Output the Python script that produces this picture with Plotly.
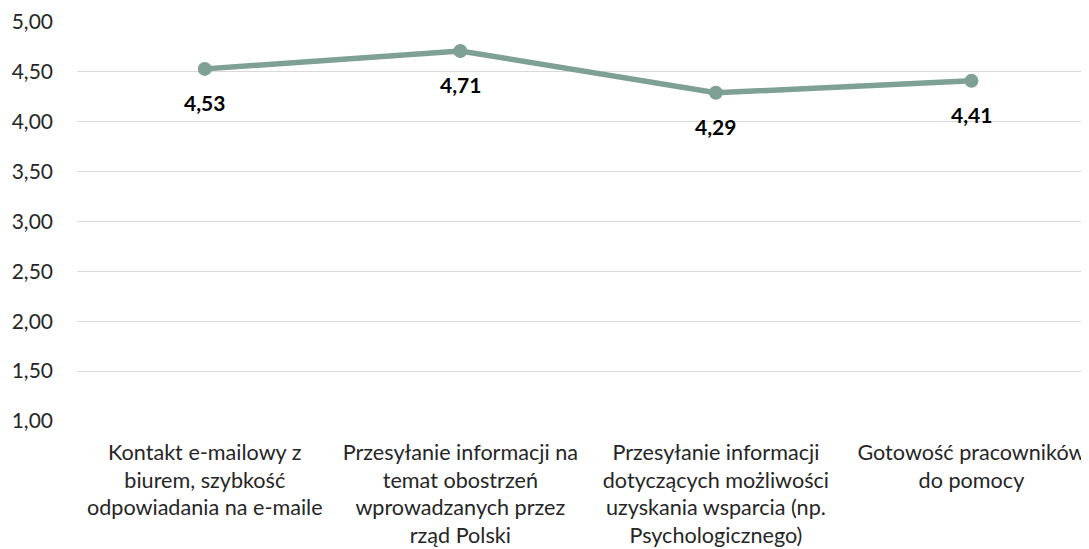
import plotly.graph_objects as go

categories = [
    "Kontakt e-mailowy z<br>biurem, szybkość<br>odpowiadania na e-maile",
    "Przesyłanie informacji na<br>temat obostrzeń<br>wprowadzanych przez<br>rząd Polski",
    "Przesyłanie informacji<br>dotyczących możliwości<br>uzyskania wsparcia (np.<br>Psychologicznego)",
    "Gotowość pracowników<br>do pomocy",
]
values = [4.53, 4.71, 4.29, 4.41]
y_ticks = [1.0, 1.5, 2.0, 2.5, 3.0, 3.5, 4.0, 4.5, 5.0]

positions = list(range(len(categories)))
FONT = "Lato"

tick_text = [
    "<br>".join('<span style="font-size:21.6px">' + part + "</span>" for part in c.split("<br>"))
    for c in categories
]

fig = go.Figure()
fig.add_trace(go.Scatter(
    x=positions, y=values, mode="lines+markers",
    line=dict(color="#7fa095", width=5.5),
    marker=dict(color="#7fa095", size=14),
    hoverinfo="skip", showlegend=False,
))
for xp, v in zip(positions, values):
    fig.add_annotation(
        x=xp, y=v, text="<b>" + f"{v:.2f}".replace(".", ",") + "</b>",
        showarrow=False, yshift=-34,
        font=dict(family=FONT, size=21, color="#000000"),
    )

fig.update_layout(
    width=1089, height=549,
    margin=dict(l=69, r=8, t=14, b=136, autoexpand=False),
    paper_bgcolor="white", plot_bgcolor="white",
    separators=", ",
    font=dict(family=FONT, size=21, color="#262626"),
)
fig.update_xaxes(
    range=[-0.5, 3.46], tickmode="array", tickvals=positions, ticktext=tick_text,
    showgrid=False, zeroline=False, showline=False, ticks="", automargin=False,
    ticklabelstandoff=17, tickfont=dict(family=FONT, size=21.2, color="#262626"),
)
fig.update_yaxes(
    range=[1.0, 5.0], tickmode="array", tickvals=y_ticks, tickformat=".2f",
    showgrid=True, gridcolor="#d9d9d9", gridwidth=1, zeroline=False, automargin=False,
    showline=False, ticks="", ticklabelstandoff=23,
    tickfont=dict(family=FONT, size=21, color="#262626"),
)

fig.write_html("out.html")
